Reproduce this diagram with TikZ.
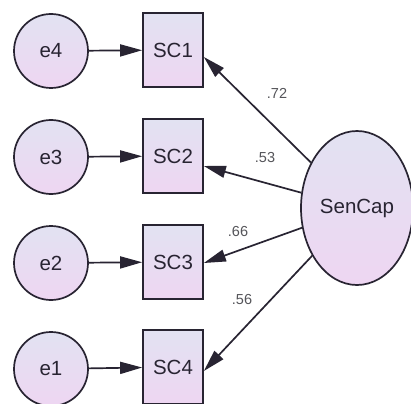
\documentclass[tikz,border=0pt]{standalone}
\usepackage{fontspec}
\setmainfont{Liberation Sans}
\usetikzlibrary{shapes.geometric,arrows.meta}
\definecolor{inkc}{RGB}{40,36,50}
\definecolor{labc}{RGB}{85,85,90}
\definecolor{fillTop}{RGB}{226,226,242}
\definecolor{fillBot}{RGB}{238,214,242}
\tikzset{
  x=1pt, y=-1pt,
  shaded/.style={top color=fillTop, bottom color=fillBot, draw=inkc, line width=1.7pt},
  errvar/.style={shaded, circle, minimum size=74pt, inner sep=0pt,
    font=\fontsize{20.5}{20.5}\selectfont, text=inkc},
  obsvar/.style={shaded, rectangle, minimum width=60pt, minimum height=74pt,
    inner sep=0pt, font=\fontsize{20.5}{20.5}\selectfont, text=inkc},
  latvar/.style={shaded, ellipse, minimum width=112pt, minimum height=154pt,
    inner sep=0pt, font=\fontsize{20.5}{20.5}\selectfont, text=inkc},
  path/.style={draw=inkc, line width=1.7pt, -{Triangle[length=22pt,width=12pt]}},
  coef/.style={font=\fontsize{14.5}{14.5}\selectfont, text=labc}
}
\begin{document}
\begin{tikzpicture}
\fill[white] (0,0) rectangle (411,403);
\clip (0,0) rectangle (411,403);
\useasboundingbox (0,0) rectangle (411,403);

% error terms
\node[errvar] (e4) at (51,51) {e4};
\node[errvar] (e3) at (51,157) {e3};
\node[errvar] (e2) at (51,263) {e2};
\node[errvar] (e1) at (51,369) {e1};

% observed indicators
\node[obsvar] (SC1) at (173,50) {SC1};
\node[obsvar] (SC2) at (173,156) {SC2};
\node[obsvar] (SC3) at (173,262) {SC3};
\node[obsvar] (SC4) at (173,367) {SC4};

% latent factor
\node[latvar] (SenCap) at (357,208) {SenCap};

% error paths
\draw[path] (e4) -- (SC1);
\draw[path] (e3) -- (SC2);
\draw[path] (e2) -- (SC3);
\draw[path] (e1) -- (SC4);

% loadings
\draw[path] (SenCap) -- ([yshift=-7pt]SC1.east);
\draw[path] (SenCap) -- ([yshift=-10pt]SC2.east);
\draw[path] (SenCap) -- ([yshift=-1pt]SC3.east);
\draw[path] (SenCap) -- ([yshift=-4pt]SC4.east);

\node[coef] (l1) at (277,93) {.72};
\node[coef] (l2) at (265,158) {.53};
\node[coef] (l3) at (238,232) {.66};
\node[coef] (l4) at (242,300) {.56};
\end{tikzpicture}
\end{document}
